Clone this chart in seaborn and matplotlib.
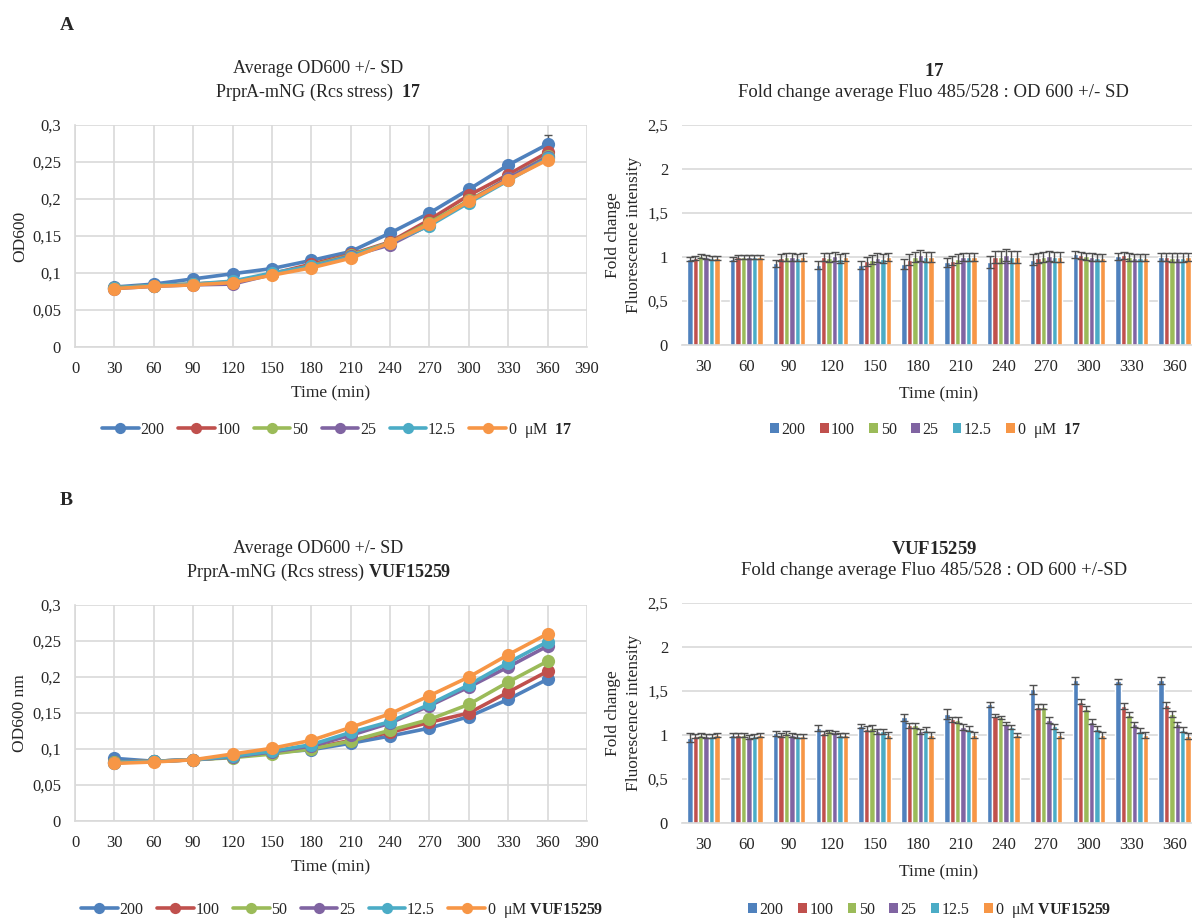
import numpy as np
import pandas as pd
import matplotlib
matplotlib.use("Agg")
import matplotlib.pyplot as plt
import seaborn as sns
from matplotlib.ticker import FuncFormatter
from matplotlib.patches import Patch

sns.set_style("white")
plt.rcParams['font.family'] = ['Liberation Serif', 'DejaVu Serif']
plt.rcParams['mathtext.fontset'] = 'custom'
plt.rcParams['mathtext.rm'] = 'Liberation Serif'
plt.rcParams['mathtext.bf'] = 'Liberation Serif:bold'
plt.rcParams['mathtext.it'] = 'Liberation Serif:italic'

# ---------------- data ----------------
times = [30, 60, 90, 120, 150, 180, 210, 240, 270, 300, 330, 360]
concs = ["200", "100", "50", "25", "12.5", "0"]
colors = ["#4F81BD", "#C0504D", "#9BBB59", "#8064A2", "#4BACC6", "#F79646"]

# Panel A, OD600 (compound 17)
od17_200 = [0.081, 0.085, 0.092, 0.099, 0.106, 0.117, 0.129, 0.154, 0.181, 0.213, 0.246, 0.274]
od17_100 = [0.080, 0.083, 0.085, 0.088, 0.099, 0.112, 0.125, 0.142, 0.172, 0.205, 0.233, 0.263]
od17_50 = [0.080, 0.083, 0.085, 0.087, 0.098, 0.110, 0.124, 0.141, 0.168, 0.198, 0.228, 0.258]
od17_25 = [0.079, 0.082, 0.084, 0.085, 0.098, 0.109, 0.123, 0.138, 0.165, 0.197, 0.228, 0.257]
od17_12 = [0.080, 0.083, 0.085, 0.089, 0.100, 0.109, 0.122, 0.141, 0.164, 0.195, 0.225, 0.255]
od17_0 = [0.079, 0.082, 0.084, 0.087, 0.097, 0.107, 0.120, 0.141, 0.166, 0.197, 0.226, 0.253]
od17_sd_200 = [0.002, 0.001, 0.002, 0.002, 0.002, 0.002, 0.003, 0.003, 0.003, 0.003, 0.004, 0.012]
od17_sd_other = [0.001, 0.001, 0.001, 0.002, 0.002, 0.002, 0.002, 0.002, 0.003, 0.003, 0.003, 0.004]

# Panel A, fold change (compound 17)
fc17_200 = [0.98, 0.98, 0.93, 0.91, 0.91, 0.92, 0.94, 0.94, 0.97, 1.03, 1.01, 1.00]
fc17_100 = [0.99, 1.00, 0.99, 1.00, 0.95, 0.97, 0.96, 1.00, 0.99, 1.02, 1.02, 1.00]
fc17_50 = [1.01, 1.00, 1.00, 0.99, 0.97, 1.00, 0.98, 1.00, 1.00, 1.01, 1.00, 0.99]
fc17_25 = [1.00, 1.00, 1.00, 1.01, 0.99, 1.02, 1.00, 1.02, 1.01, 1.00, 0.99, 0.99]
fc17_12 = [0.99, 1.00, 0.99, 0.98, 0.98, 1.00, 1.00, 1.00, 1.00, 0.99, 0.99, 0.99]
fc17_0 = [0.99, 1.00, 1.00, 1.00, 1.00, 1.00, 1.00, 1.00, 1.00, 0.99, 0.99, 1.00]
fc17_sd = [0.02, 0.02, 0.04, 0.05, 0.05, 0.06, 0.05, 0.07, 0.06, 0.04, 0.04, 0.05]

# Panel B, OD600 (VUF15259)
odV_200 = [0.087, 0.083, 0.085, 0.089, 0.095, 0.099, 0.108, 0.118, 0.129, 0.145, 0.169, 0.197]
odV_100 = [0.082, 0.083, 0.085, 0.089, 0.095, 0.101, 0.112, 0.123, 0.137, 0.150, 0.179, 0.208]
odV_50 = [0.082, 0.083, 0.085, 0.088, 0.093, 0.100, 0.111, 0.126, 0.141, 0.162, 0.193, 0.222]
odV_25 = [0.081, 0.083, 0.085, 0.089, 0.096, 0.104, 0.119, 0.136, 0.160, 0.186, 0.214, 0.243]
odV_12 = [0.081, 0.083, 0.085, 0.090, 0.097, 0.106, 0.123, 0.138, 0.162, 0.189, 0.220, 0.249]
odV_0 = [0.080, 0.082, 0.085, 0.093, 0.101, 0.112, 0.130, 0.149, 0.174, 0.200, 0.231, 0.260]
odV_sd = [0.002, 0.001, 0.001, 0.002, 0.002, 0.002, 0.002, 0.002, 0.003, 0.003, 0.003, 0.003]

# Panel B, fold change (VUF15259)
fcV_200 = [0.97, 1.00, 1.02, 1.08, 1.10, 1.20, 1.24, 1.35, 1.52, 1.62, 1.61, 1.62]
fcV_100 = [0.99, 1.00, 1.00, 1.02, 1.07, 1.11, 1.18, 1.22, 1.32, 1.38, 1.33, 1.34]
fcV_50 = [1.00, 1.00, 1.02, 1.04, 1.08, 1.11, 1.17, 1.20, 1.32, 1.30, 1.23, 1.24]
fcV_25 = [0.99, 0.98, 1.00, 1.03, 1.04, 1.04, 1.09, 1.13, 1.17, 1.15, 1.12, 1.12]
fcV_12 = [0.99, 0.99, 0.99, 1.00, 1.04, 1.06, 1.07, 1.09, 1.10, 1.07, 1.05, 1.06]
fcV_0 = [1.00, 1.00, 0.99, 1.00, 1.00, 1.00, 1.00, 1.00, 1.00, 1.00, 1.00, 0.99]
fcV_sd_200 = [0.05, 0.02, 0.03, 0.03, 0.02, 0.04, 0.06, 0.03, 0.05, 0.04, 0.03, 0.04]
fcV_sd_other = [0.02, 0.02, 0.02, 0.02, 0.03, 0.03, 0.03, 0.02, 0.03, 0.03, 0.03, 0.03]

xticks_line = [0, 30, 60, 90, 120, 150, 180, 210, 240, 270, 300, 330, 360, 390]
yticks_od = [0, 0.05, 0.1, 0.15, 0.2, 0.25, 0.3]
yticks_fc = [0, 0.5, 1, 1.5, 2, 2.5]

GRID = "#D9D9D9"
FS = 12.5
LEGFS = 11.5


def comma(v, pos):
    return ("%g" % v).replace(".", ",")


def long_df(series, valname):
    rows = []
    for c, vals in zip(concs, series):
        for t, v in zip(times, vals):
            rows.append({"time": t, valname: v, "conc": c})
    return pd.DataFrame(rows)


fig = plt.figure(figsize=(11.92, 9.21), dpi=100)
W, H = 1192.0, 921.0


def axes_px(l, t, r, b):
    return fig.add_axes([l / W, 1 - b / H, (r - l) / W, (b - t) / H])


def line_panel(ax, series, sds, title, ylabel, legend_label_last, leg_xy):
    df = long_df(series, "od")
    sns.lineplot(data=df, x="time", y="od", hue="conc", hue_order=concs,
                 palette=colors, marker="o", markersize=9.5, markeredgewidth=0,
                 linewidth=2.6, legend=False, ax=ax, zorder=3)
    handles = list(ax.get_lines())[:6]
    for c, vals, sd in zip(colors, series, sds):
        ax.errorbar(times, vals, yerr=sd, fmt="none", ecolor="#555555",
                    elinewidth=1, capsize=3, zorder=2)
    ax.set_xlim(0, 390)
    ax.set_ylim(0, 0.3)
    ax.set_xticks(xticks_line)
    ax.set_yticks(yticks_od)
    ax.yaxis.set_major_formatter(FuncFormatter(comma))
    ax.grid(True, color=GRID, linewidth=1.2)
    ax.set_axisbelow(True)
    for s in ["top", "right"]:
        ax.spines[s].set_visible(False)
    for s in ["left", "bottom"]:
        ax.spines[s].set_color(GRID)
        ax.spines[s].set_linewidth(1.2)
    ax.tick_params(length=0, labelsize=FS - 0.5, pad=10)
    ax.set_xlabel("Time (min)", fontsize=FS, labelpad=6)
    ax.set_ylabel(ylabel, fontsize=FS, labelpad=3)
    ax.set_title(title, fontsize=13, pad=20, linespacing=1.35, x=0.475)
    labels = concs[:-1] + [legend_label_last]
    ax.legend(handles, labels, loc="center", bbox_to_anchor=leg_xy,
              bbox_transform=fig.transFigure, ncol=6, frameon=False,
              fontsize=LEGFS, handlelength=2.3, columnspacing=0.85,
              handletextpad=0.1, markerscale=0.85)


def bar_panel(ax, series, sds, title, legend_label_last, leg_xy):
    df = long_df(series, "fc")
    df["time"] = df["time"].astype(str)
    sns.barplot(data=df, x="time", y="fc", hue="conc", hue_order=concs,
                order=[str(t) for t in times], palette=colors, saturation=1,
                width=0.76, errorbar=None, legend=False, ax=ax, zorder=2)
    for cont, sd in zip(ax.containers, sds):
        xs = [p.get_x() + p.get_width() / 2 for p in cont]
        ys = [p.get_height() for p in cont]
        ax.errorbar(xs, ys, yerr=sd, fmt="none", ecolor="#505050",
                    elinewidth=1, capsize=2.6, capthick=1, zorder=3)
    ax.set_xlim(-0.5, 11.5)
    ax.set_ylim(0, 2.5)
    ax.set_yticks(yticks_fc)
    ax.yaxis.set_major_formatter(FuncFormatter(comma))
    ax.yaxis.grid(True, color=GRID, linewidth=1.2)
    ax.set_axisbelow(True)
    for s in ["top", "right", "left"]:
        ax.spines[s].set_visible(False)
    ax.spines["bottom"].set_color(GRID)
    ax.spines["bottom"].set_linewidth(1.2)
    ax.tick_params(length=0, labelsize=FS - 0.5, pad=10)
    ax.set_xlabel("Time (min)", fontsize=FS, labelpad=8)
    ax.set_ylabel("Fold change\nFluorescence intensity", fontsize=FS,
                  labelpad=4, linespacing=1.35)
    ax.set_title(title, fontsize=13.5, pad=20, linespacing=1.3, x=0.49)
    handles = [Patch(facecolor=c, edgecolor="none") for c in colors]
    labels = concs[:-1] + [legend_label_last]
    ax.legend(handles, labels, loc="center", bbox_to_anchor=leg_xy,
              bbox_transform=fig.transFigure, ncol=6, frameon=False,
              fontsize=LEGFS, handlelength=0.55, handleheight=0.55,
              columnspacing=0.9, handletextpad=0.15)


# Panel A
axA1 = axes_px(75, 125, 587, 347)
line_panel(axA1, [od17_200, od17_100, od17_50, od17_25, od17_12, od17_0],
           [od17_sd_200] + [od17_sd_other] * 5,
           "Average OD600 +/- SD\nPrprA-mNG (Rcs stress)  $\\mathbf{17}$",
           "OD600", "0  μM  $\\mathbf{17}$", (337 / W, 1 - 430 / H))

axA2 = axes_px(682, 125, 1196, 345)
bar_panel(axA2, [fc17_200, fc17_100, fc17_50, fc17_25, fc17_12, fc17_0],
          [fc17_sd] * 6,
          "$\\mathbf{17}$\nFold change average Fluo 485/528 : OD 600 +/- SD",
          "0  μM  $\\mathbf{17}$", (926 / W, 1 - 430 / H))

# Panel B
axB1 = axes_px(75, 605, 587, 821)
line_panel(axB1, [odV_200, odV_100, odV_50, odV_25, odV_12, odV_0],
           [odV_sd] * 6,
           "Average OD600 +/- SD\nPrprA-mNG (Rcs stress) $\\mathbf{VUF15259}$",
           "OD600 nm", "0  μM $\\mathbf{VUF15259}$", (342 / W, 1 - 910 / H))

axB2 = axes_px(682, 603, 1196, 823)
bar_panel(axB2, [fcV_200, fcV_100, fcV_50, fcV_25, fcV_12, fcV_0],
          [fcV_sd_200] + [fcV_sd_other] * 5,
          "$\\mathbf{VUF15259}$\nFold change average Fluo 485/528 : OD 600 +/-SD",
          "0  μM $\\mathbf{VUF15259}$", (930 / W, 1 - 910 / H))

fig.text(60 / W, 1 - 25 / H, "A", fontsize=14, fontweight="bold", va="center")
fig.text(60 / W, 1 - 500 / H, "B", fontsize=14, fontweight="bold", va="center")

fig.savefig("out.png", dpi=100)
